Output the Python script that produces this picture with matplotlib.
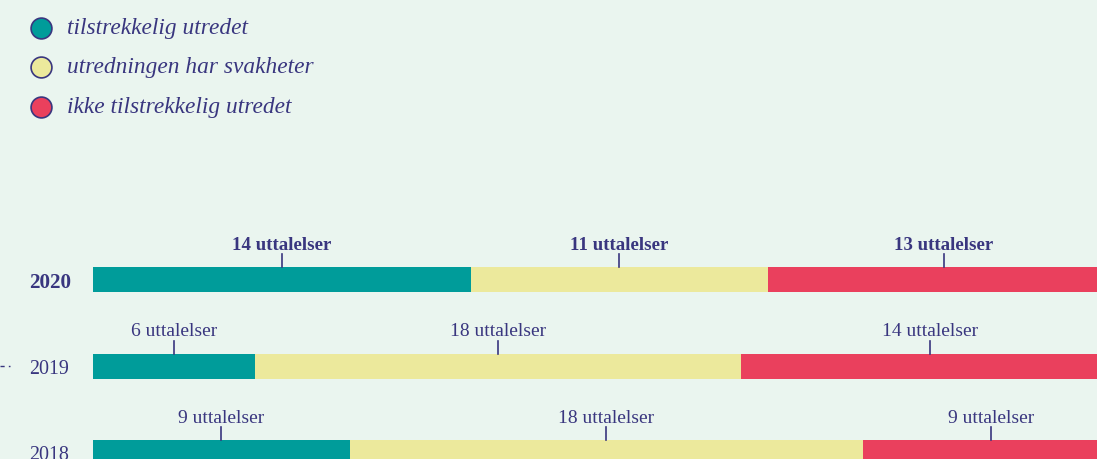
import matplotlib
matplotlib.use('Agg')
import matplotlib.pyplot as plt
import numpy as np

# data
years = ['2020', '2019', '2018']
categories = ['tilstrekkelig utredet', 'utredningen har svakheter', 'ikke tilstrekkelig utredet']
counts = {
    'tilstrekkelig utredet': [14, 6, 9],
    'utredningen har svakheter': [11, 18, 18],
    'ikke tilstrekkelig utredet': [13, 14, 9],
}
colors = ['#009c9a', '#ece99c', '#ea405d']
bg = '#eaf5ef'
ink = '#39367f'

W, H = 1097, 460
fig = plt.figure(figsize=(W / 100, H / 100), dpi=100, facecolor=bg)

# axes: x in percent, 0 -> 93px, 100 -> 1119px (bars run past the right edge)
x0, x1 = 93, 1119
ax = fig.add_axes([x0 / W, 0, (x1 - x0) / W, 1])
ax.set_facecolor('none')
ax.set_xlim(0, 100)
step = 86.5
yc0 = 280.5
ax.set_ylim((H - yc0) / step, -yc0 / step)
ax.axis('off')

data = np.array([counts[c] for c in categories], dtype=float)
totals = data.sum(axis=0)
pct = data / totals * 100
ypos = np.arange(len(years))
bar_h = 25 / step

left = np.zeros(len(years))
for ci, cat in enumerate(categories):
    ax.barh(ypos, pct[ci], left=left, height=bar_h, color=colors[ci],
            edgecolor='none', clip_on=False)
    for yi in range(len(years)):
        cx = left[yi] + pct[ci][yi] / 2
        bold = yi == 0
        top = ypos[yi] - bar_h / 2
        ax.plot([cx, cx], [top - 13 / step, top], color=ink, lw=1.2, clip_on=False)
        ax.text(cx, top - 18 / step, f'{int(data[ci][yi])} uttalelser',
                ha='center', va='baseline', color=ink,
                fontsize=13.6 if bold else 14,
                family='Liberation Serif', fontweight='bold' if bold else 'normal')
    left += pct[ci]

# year labels
for yi, yr in enumerate(years):
    fig.text(29 / W, 1 - (yc0 + 2.5 + yi * step) / H, yr, ha='left', va='center',
             color=ink, fontsize=15.2 if yi == 0 else 14.4, family='Liberation Serif',
             fontweight='bold' if yi == 0 else 'normal')

# little dotted leftover on the left
fig.add_artist(plt.Line2D([0, 10 / W], [1 - 367 / H] * 2, color=ink, lw=1,
                          linestyle=(0, (3, 3))))

# legend
for i, cat in enumerate(categories):
    yy = 1 - (28.5 + i * 39.5) / H
    fig.add_artist(plt.Line2D([40.5 / W], [yy], marker='o', markersize=15,
                              markerfacecolor=colors[i], markeredgecolor=ink,
                              markeredgewidth=1.2, linestyle='none'))
    fig.text(67 / W, yy, cat, ha='left', va='center', color=ink, fontsize=16.8,
             family='Liberation Serif', style='italic')

fig.savefig('out.png', dpi=100, facecolor=bg)
